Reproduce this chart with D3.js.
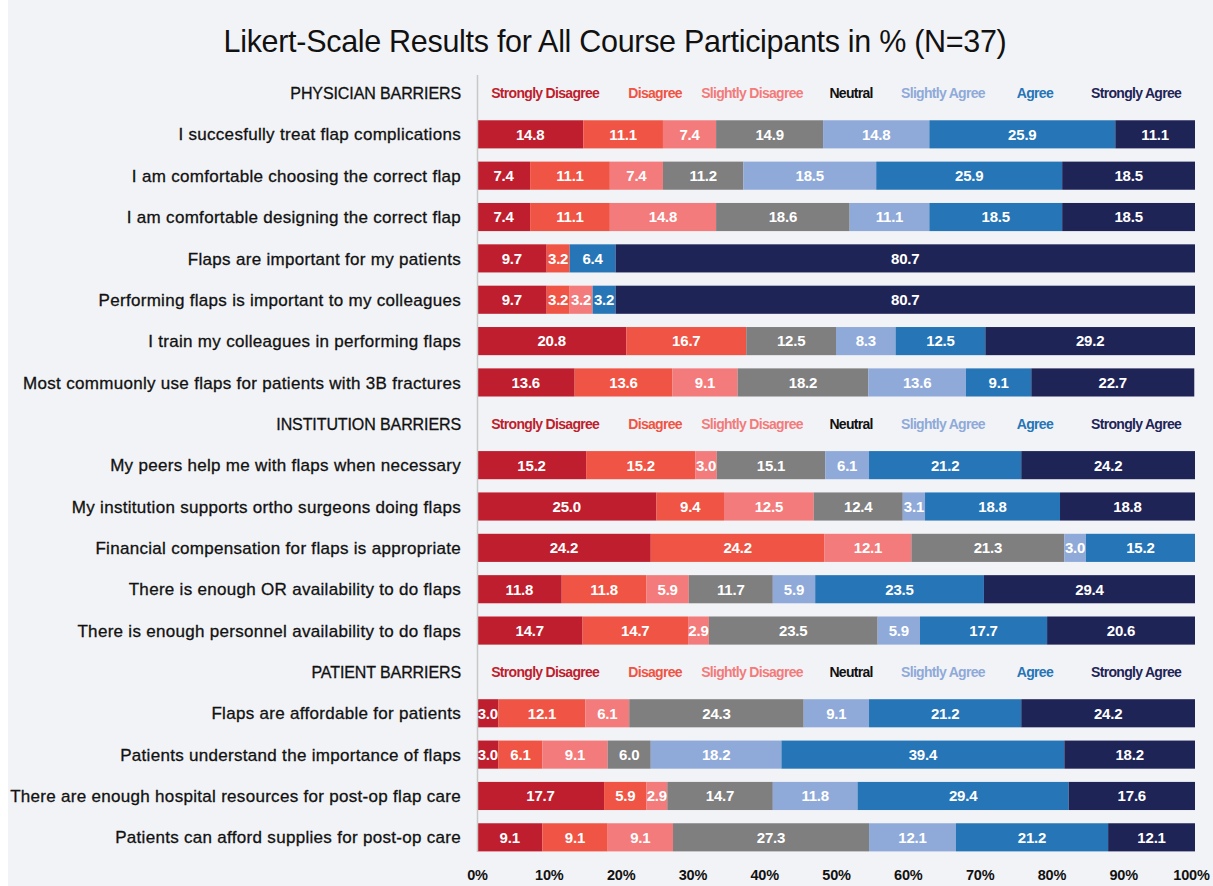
<!DOCTYPE html>
<html>
<head>
<meta charset="utf-8">
<script src="https://cdn.jsdelivr.net/npm/d3@7"></script>
<style>
  html, body { margin: 0; padding: 0; background: #ffffff; }
  svg { display: block; }
</style>
</head>
<body>
<svg id="chart" width="1213" height="886"></svg>
<script>
// ---------- DATA ----------
const title = "Likert-Scale Results for All Course Participants in % (N=37)";
const seriesNames = ["Strongly Disagree", "Disagree", "Slightly Disagree", "Neutral", "Slightly Agree", "Agree", "Strongly Agree"];
const sectionNames = ["PHYSICIAN BARRIERS", "INSTITUTION BARRIERS", "PATIENT BARRIERS"];
const sectionOf = [0,0,0,0,0,0,0, 1,1,1,1,1, 2,2,2,2];
const categories = [
  "I succesfully treat flap complications",
  "I am comfortable choosing the correct flap",
  "I am comfortable designing the correct flap",
  "Flaps are important for my patients",
  "Performing flaps is important to my colleagues",
  "I train my colleagues in performing flaps",
  "Most commuonly use flaps for patients with 3B fractures",
  "My peers help me with flaps when necessary",
  "My institution supports ortho surgeons doing flaps",
  "Financial compensation for flaps is appropriate",
  "There is enough OR availability to do flaps",
  "There is enough personnel availability to do flaps",
  "Flaps are affordable for patients",
  "Patients understand the importance of flaps",
  "There are enough hospital resources for post-op flap care",
  "Patients can afford supplies for post-op care"
];
const stronglyDisagree = [14.8, 7.4, 7.4, 9.7, 9.7, 20.8, 13.6, 15.2, 25.0, 24.2, 11.8, 14.7, 3.0, 3.0, 17.7, 9.1];
const disagree         = [11.1, 11.1, 11.1, 3.2, 3.2, 16.7, 13.6, 15.2, 9.4, 24.2, 11.8, 14.7, 12.1, 6.1, 5.9, 9.1];
const slightlyDisagree = [7.4, 7.4, 14.8, 0, 3.2, 0, 9.1, 3.0, 12.5, 12.1, 5.9, 2.9, 6.1, 9.1, 2.9, 9.1];
const neutral          = [14.9, 11.2, 18.6, 0, 0, 12.5, 18.2, 15.1, 12.4, 21.3, 11.7, 23.5, 24.3, 6.0, 14.7, 27.3];
const slightlyAgree    = [14.8, 18.5, 11.1, 0, 0, 8.3, 13.6, 6.1, 3.1, 3.0, 5.9, 5.9, 9.1, 18.2, 11.8, 12.1];
const agree            = [25.9, 25.9, 18.5, 6.4, 3.2, 12.5, 9.1, 21.2, 18.8, 15.2, 23.5, 17.7, 21.2, 39.4, 29.4, 21.2];
const stronglyAgree    = [11.1, 18.5, 18.5, 80.7, 80.7, 29.2, 22.7, 24.2, 18.8, 0, 29.4, 20.6, 24.2, 18.2, 17.6, 12.1];
const xTicks = [0, 10, 20, 30, 40, 50, 60, 70, 80, 90, 100];

// ---------- STYLE / LAYOUT ----------
const colors = ["#be1e2d", "#f05444", "#f37b7b", "#7f7f7f", "#8faad9", "#2675b6", "#1f2457"];
const legendTextColors = ["#be1e2d", "#f05444", "#f37b7b", "#111111", "#8faad9", "#2675b6", "#1f2457"];
const legendPct = [9.5, 24.8, 38.3, 52.1, 64.9, 77.7, 91.8];
const allSeries = [stronglyDisagree, disagree, slightlyDisagree, neutral, slightlyAgree, agree, stronglyAgree];

const svg = d3.select("#chart");
svg.append("rect").attr("width", 1213).attr("height", 886).attr("fill", "#ffffff");
svg.append("rect").attr("x", 8).attr("y", 0).attr("width", 1205).attr("height", 886).attr("fill", "#f2f3f6");

const rows = [];
sectionNames.forEach((s, si) => {
  rows.push({type: "header", section: si, key: "h" + si, label: s});
  categories.forEach((c, ci) => {
    if (sectionOf[ci] === si) rows.push({type: "bar", idx: ci, key: "c" + ci, label: c});
  });
});

const x = d3.scaleLinear().domain([0, 100]).range([477, 1195]);
const y = d3.scaleBand().domain(rows.map(r => r.key)).range([72.3, 858]).paddingInner(0.32).paddingOuter(0.16);

const font = "'Liberation Sans', Arial, sans-serif";

// Title
svg.append("text")
  .attr("x", 615).attr("y", 52)
  .attr("text-anchor", "middle")
  .attr("font-family", font)
  .attr("font-size", 30.5)
  .attr("fill", "#111")
  .style("letter-spacing", "-0.3px")
  .text(title);

// Row labels
svg.append("g").selectAll("text").data(rows).join("text")
  .attr("x", 461)
  .attr("y", r => y(r.key) + y.bandwidth() / 2)
  .attr("dy", "0.36em")
  .attr("text-anchor", "end")
  .attr("font-family", font)
  .attr("font-size", r => r.type === "header" ? 16 : 17)
  .attr("fill", "#111")
  .attr("stroke", "#111")
  .attr("stroke-width", 0.3)
  .style("letter-spacing", r => r.type === "header" ? "-0.1px" : "0.3px")
  .text(r => r.label);

// Stacked bars
const barRows = rows.filter(r => r.type === "bar");
const segs = [];
barRows.forEach(r => {
  let acc = 0;
  allSeries.forEach((s, k) => {
    const v = s[r.idx];
    segs.push({key: r.key, k, v, x0: acc, x1: acc + v});
    acc += v;
  });
});
const g = svg.append("g");
g.selectAll("rect").data(segs.filter(d => d.v > 0)).join("rect")
  .attr("x", d => x(d.x0))
  .attr("width", d => Math.max(0, x(Math.min(100, d.x1)) - x(d.x0)))
  .attr("y", d => y(d.key))
  .attr("height", y.bandwidth())
  .attr("fill", d => colors[d.k]);

g.selectAll("text").data(segs.filter(d => d.v > 0)).join("text")
  .attr("x", d => x((d.x0 + Math.min(100, d.x1)) / 2))
  .attr("y", d => y(d.key) + y.bandwidth() / 2)
  .attr("dy", "0.36em")
  .attr("text-anchor", "middle")
  .attr("font-family", font)
  .attr("font-size", 15)
  .attr("font-weight", "bold")
  .attr("fill", "#ffffff")
  .style("letter-spacing", "-0.2px")
  .text(d => d.v.toFixed(1));

// Legend in each header row
const headerRows = rows.filter(r => r.type === "header");
headerRows.forEach(r => {
  svg.append("g").selectAll("text").data(seriesNames).join("text")
    .attr("x", (d, i) => x(legendPct[i]))
    .attr("y", y(r.key) + y.bandwidth() / 2)
    .attr("dy", "0.36em")
    .attr("text-anchor", "middle")
    .attr("font-family", font)
    .attr("font-size", 14)
    .attr("font-weight", "bold")
    .attr("fill", (d, i) => legendTextColors[i])
    .style("letter-spacing", "-0.7px")
    .text(d => d);
});

// Vertical axis line
svg.append("line")
  .attr("x1", 477.5).attr("x2", 477.5)
  .attr("y1", 75).attr("y2", 852)
  .attr("stroke", "#c8c8c8").attr("stroke-width", 1.5);

// X axis
const xAxis = d3.axisBottom(x).tickValues(xTicks).tickFormat(d => d + "%").tickSize(0).tickPadding(0);
const ax = svg.append("g").attr("transform", "translate(0,870)").call(xAxis);
ax.select(".domain").remove();
ax.selectAll("text")
  .attr("font-family", font)
  .attr("font-size", 14.5)
  .attr("font-weight", "bold")
  .attr("fill", "#111")
  .style("letter-spacing", "-0.2px")
  .attr("dx", d => d === 100 ? -4 : 0)
  .attr("dy", "0.71em");
</script>
</body>
</html>
